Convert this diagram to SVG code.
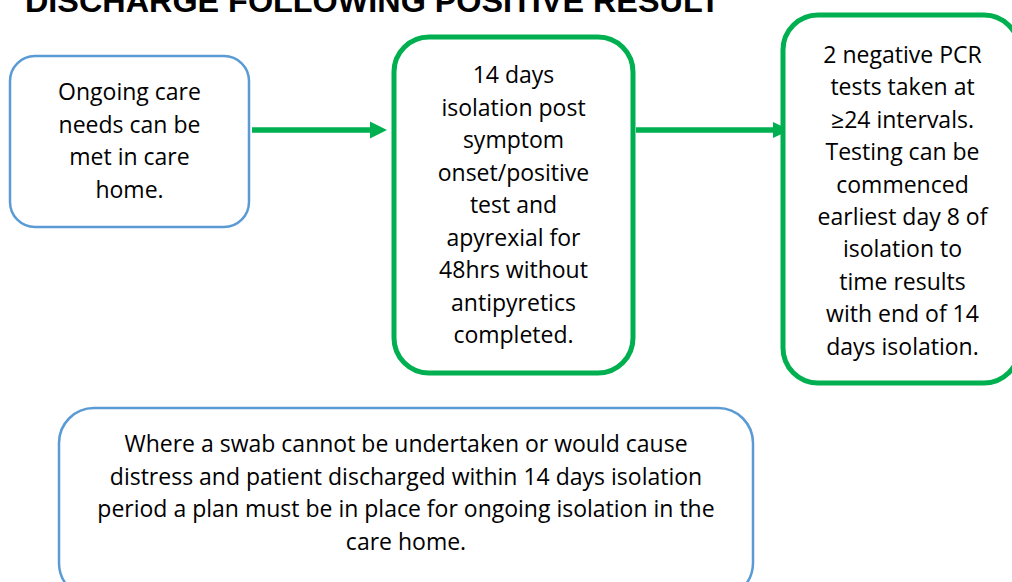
<svg xmlns="http://www.w3.org/2000/svg" width="1012" height="582" viewBox="0 0 1012 582">
<style>
.box-blue{fill:#fff;stroke:#5b9bd5;stroke-width:2.5}
.box-green{fill:#fff;stroke:#00b050;stroke-width:5}
.t{font-family:"Open Sans","Liberation Sans",sans-serif;font-size:23px;fill:#000;text-anchor:middle}
.title{font-family:"Liberation Sans",Arial,sans-serif;font-weight:bold;font-size:32px;fill:#000}
.conn{stroke:#00b050;stroke-width:5.5;fill:none}
.head{fill:#00b050}
</style>
<rect width="1012" height="582" fill="#fff"/>
<text class="title" x="25" y="12" textLength="695" lengthAdjust="spacingAndGlyphs">DISCHARGE FOLLOWING POSITIVE RESULT</text>
<g id="connectors">
<line class="conn" x1="252" y1="130" x2="372" y2="130"/>
<polygon class="head" points="370,121.5 387,130 370,138.5"/>
<line class="conn" x1="636" y1="130" x2="775" y2="130"/>
<polygon class="head" points="773,122 790,130 773,138"/>
</g>
<g id="node-care">
<rect class="box-blue" x="10" y="56" width="239" height="171" rx="25"/>
<text class="t" x="129.5" y="100">Ongoing care</text>
<text class="t" x="129.5" y="132.5">needs can be</text>
<text class="t" x="129.5" y="165">met in care</text>
<text class="t" x="129.5" y="197.5">home.</text>
</g>
<g id="node-isolation">
<rect class="box-green" x="394" y="37" width="239" height="336" rx="35"/>
<text class="t" x="513.5" y="83">14 days</text>
<text class="t" x="513.5" y="115.5">isolation post</text>
<text class="t" x="513.5" y="148">symptom</text>
<text class="t" x="513.5" y="180.5">onset/positive</text>
<text class="t" x="513.5" y="213">test and</text>
<text class="t" x="513.5" y="245.5">apyrexial for</text>
<text class="t" x="513.5" y="278">48hrs without</text>
<text class="t" x="513.5" y="310.5">antipyretics</text>
<text class="t" x="513.5" y="343">completed.</text>
</g>
<g id="node-pcr">
<rect class="box-green" x="783" y="15" width="236" height="368" rx="35"/>
<text class="t" x="902.5" y="63">2 negative PCR</text>
<text class="t" x="902.5" y="95.4">tests taken at</text>
<text class="t" x="902.5" y="127.8">≥24 intervals.</text>
<text class="t" x="902.5" y="160.2">Testing can be</text>
<text class="t" x="902.5" y="192.6">commenced</text>
<text class="t" x="902.5" y="225">earliest day 8 of</text>
<text class="t" x="902.5" y="257.4">isolation to</text>
<text class="t" x="902.5" y="289.8">time results</text>
<text class="t" x="902.5" y="322.2">with end of 14</text>
<text class="t" x="902.5" y="354.6">days isolation.</text>
</g>
<g id="node-swab">
<rect class="box-blue" x="59" y="408" width="694" height="190" rx="35"/>
<text class="t" x="406" y="452">Where a swab cannot be undertaken or would cause</text>
<text class="t" x="406" y="484.5">distress and patient discharged within 14 days isolation</text>
<text class="t" x="406" y="517">period a plan must be in place for ongoing isolation in the</text>
<text class="t" x="406" y="549.5">care home.</text>
</g>
</svg>
